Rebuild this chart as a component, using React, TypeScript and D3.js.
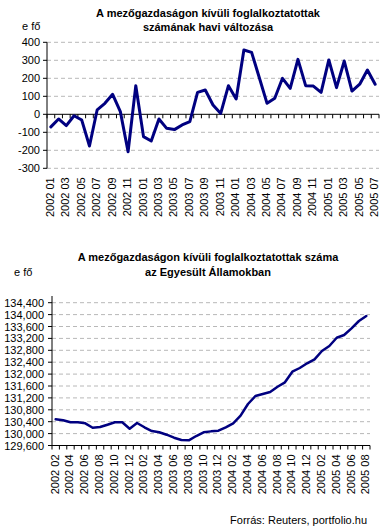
import React from "react";
import * as d3 from "d3";

const topMonths = [
  "2002 01","2002 02","2002 03","2002 04","2002 05","2002 06","2002 07","2002 08","2002 09","2002 10","2002 11","2002 12",
  "2003 01","2003 02","2003 03","2003 04","2003 05","2003 06","2003 07","2003 08","2003 09","2003 10","2003 11","2003 12",
  "2004 01","2004 02","2004 03","2004 04","2004 05","2004 06","2004 07","2004 08","2004 09","2004 10","2004 11","2004 12",
  "2005 01","2005 02","2005 03","2005 04","2005 05","2005 06","2005 07",
];
const topValues = [
  -70, -26, -63, -8, -32, -176, 25, 61, 111, 15, -208, 159,
  -124, -148, -26, -78, -85, -59, -41, 122, 135, 52, 5, 159,
  85, 357, 344, 203, 61, 89, 200, 144, 305, 159, 157, 122,
  302, 148, 296, 129, 167, 246, 167,
];
const topTicks = [400, 300, 200, 100, 0, -100, -200, -300];

const bottomMonths = [
  "2002 02","2002 03","2002 04","2002 05","2002 06","2002 07","2002 08","2002 09","2002 10","2002 11","2002 12",
  "2003 01","2003 02","2003 03","2003 04","2003 05","2003 06","2003 07","2003 08","2003 09","2003 10","2003 11","2003 12",
  "2004 01","2004 02","2004 03","2004 04","2004 05","2004 06","2004 07","2004 08","2004 09","2004 10","2004 11","2004 12",
  "2005 01","2005 02","2005 03","2005 04","2005 05","2005 06","2005 07","2005 08",
];
const bottomValues = [
  130481, 130447, 130380, 130380, 130346, 130198, 130222, 130299, 130380, 130380, 130165,
  130356, 130212, 130087, 130044, 129963, 129862, 129785, 129775, 129919, 130044, 130075, 130098,
  130212, 130346, 130602, 130995, 131264, 131331, 131398, 131576, 131724, 132080, 132205, 132363,
  132497, 132776, 132944, 133223, 133314, 133539, 133785, 133953,
];
const bottomTicks = [134400, 134000, 133600, 133200, 132800, 132400, 132000, 131600, 131200, 130800, 130400, 130000, 129600];

const FONT = "'Liberation Sans', Arial, sans-serif";
const LINE = "#000080";
const GRID = "#b8b8b8";

function Chart(props: {
  months: string[];
  values: number[];
  ticks: number[];
  yDomain: [number, number];
  x0: number; x1: number; yTop: number; yBottom: number;
  axisValue: number; axisTop: number;
  labelEvery: number;
  fmt: (v: number) => string;
  labelX: number;
  strokeW: number;
}) {
  const { months, values, ticks, yDomain, x0, x1, yTop, yBottom, axisValue, axisTop, fmt, labelX, strokeW } = props;
  const x = d3.scaleBand<string>().domain(months).range([x0, x1]).paddingInner(0).paddingOuter(0);
  const y = d3.scaleLinear().domain(yDomain).range([yBottom, yTop]);
  const line = d3.line<number>()
    .x((_, i) => (x(months[i]) as number) + x.bandwidth() / 2)
    .y((d) => y(d));
  const axisY = y(axisValue);
  const bounds = d3.range(months.length + 1).map((k) => x0 + k * x.bandwidth());
  return (
    <g>
      {ticks.filter((t) => t !== axisValue).map((t) => (
        <line key={"g" + t} x1={x0} x2={x1} y1={y(t)} y2={y(t)} stroke={GRID} strokeDasharray="4,3" strokeWidth={1} />
      ))}
      <line x1={x0} x2={x0} y1={axisTop} y2={yBottom} stroke="#000" strokeWidth={1} />
      {ticks.map((t) => (
        <g key={"t" + t}>
          <line x1={x0 - 4} x2={x0} y1={y(t)} y2={y(t)} stroke="#000" />
          <text x={labelX} y={y(t) + 4} textAnchor="end" fontSize={11} fontFamily={FONT} fill="#000">{fmt(t)}</text>
        </g>
      ))}
      <line x1={x0} x2={x1} y1={axisY} y2={axisY} stroke="#000" strokeWidth={1} />
      {bounds.map((bx, k) => (
        <line key={"b" + k} x1={bx} x2={bx} y1={axisY} y2={axisY + 4} stroke="#000" />
      ))}
      {months.map((m, i) => i % props.labelEvery === 0 ? (
        <text key={"l" + m}
          transform={`translate(${(x(m) as number) + x.bandwidth() / 2 + 3},${yBottom + 9}) rotate(-90)`}
          textAnchor="end" fontSize={11} fontFamily={FONT} fill="#000">{m}</text>
      ) : null)}
      <path d={line(values) as string} fill="none" stroke={LINE} strokeWidth={strokeW} strokeLinejoin="round" strokeLinecap="round" />
    </g>
  );
}

export default function App() {
  const fmtComma = d3.format(",");
  return (
    <svg width={391} height={532} style={{ position: "absolute", left: 0, top: 0, background: "#fff" }}>
      <rect width={391} height={532} fill="#fff" />
      <text x={208} y={17} textAnchor="middle" fontSize={11} fontWeight="bold" fontFamily={FONT}>A mezőgazdaságon kívüli foglalkoztatottak</text>
      <text x={208} y={31} textAnchor="middle" fontSize={11} fontWeight="bold" fontFamily={FONT}>számának havi változása</text>
      <text x={22} y={30} fontSize={11} fontFamily={FONT}>e fő</text>
      <Chart months={topMonths} values={topValues} ticks={topTicks} yDomain={[-300, 400]}
        x0={47} x1={379} yTop={42.3} yBottom={168.3} axisValue={0} axisTop={42.3}
        labelEvery={2} fmt={(v) => String(v)} labelX={40} strokeW={3} />

      <text x={208} y={261} textAnchor="middle" fontSize={11} fontWeight="bold" fontFamily={FONT}>A mezőgazdaságon kívüli foglalkoztatottak száma</text>
      <text x={208} y={276} textAnchor="middle" fontSize={11} fontWeight="bold" fontFamily={FONT}>az Egyesült Államokban</text>
      <text x={14} y={276} fontSize={11} fontFamily={FONT}>e fő</text>
      <Chart months={bottomMonths} values={bottomValues} ticks={bottomTicks} yDomain={[129600, 134400]}
        x0={52} x1={370} yTop={302.7} yBottom={445.5} axisValue={129600} axisTop={296}
        labelEvery={2} fmt={(v) => fmtComma(v)} labelX={44} strokeW={2.5} />

      <text x={367} y={524} textAnchor="end" fontSize={11} fontFamily={FONT}>Forrás: Reuters, portfolio.hu</text>
    </svg>
  );
}
